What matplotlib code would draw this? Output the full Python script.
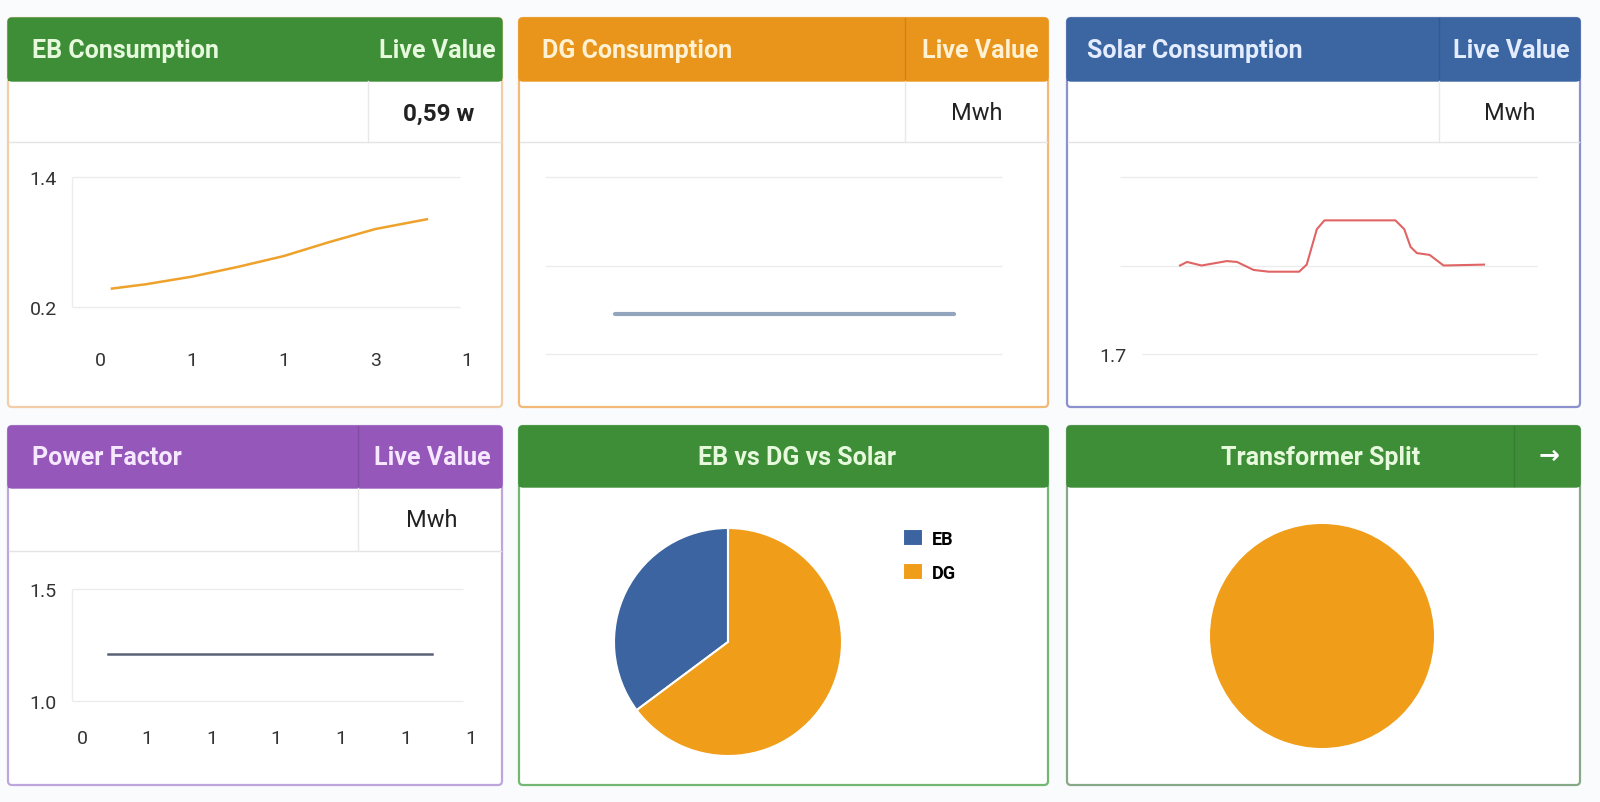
import matplotlib.pyplot as plt
from matplotlib.patches import FancyBboxPatch, Rectangle

plt.rcParams['font.family'] = ['Roboto', 'DejaVu Sans']

# ---- данные ----
eb_x = [0.13, 0.5, 1.0, 1.5, 2.0, 2.5, 3.0, 3.56]
eb_y = [0.37, 0.41, 0.48, 0.57, 0.67, 0.80, 0.92, 1.01]
eb_xlabels = ['0', '1', '1', '3', '1']
eb_yticks = [0.2, 1.4]
eb_live = '0,59 w'

dg_x = [0, 1, 2, 3, 4]
dg_y = [0.45, 0.45, 0.45, 0.45, 0.45]
dg_live = 'Mwh'

solar_x = [0, 0.55, 1.7, 3.7, 4.5, 5.8, 7.0, 9.4, 10.0, 10.8, 11.4, 17.0, 17.7, 18.2, 18.7, 19.7, 20.8, 24.0]
solar_y = [1.800, 1.804, 1.800, 1.805, 1.804, 1.795, 1.793, 1.793, 1.801, 1.841, 1.851,
           1.851, 1.841, 1.821, 1.814, 1.812, 1.800, 1.801]
solar_live = 'Mwh'

pf_x = [0.4, 1.4, 2.4, 3.4, 4.4, 5.4]
pf_y = [1.21, 1.21, 1.21, 1.21, 1.21, 1.21]
pf_xlabels = ['0', '1', '1', '1', '1', '1', '1']
pf_yticks = [1.0, 1.5]
pf_live = 'Mwh'

mix_labels = ['EB', 'DG']
mix_values = [35.2, 64.8]
transformer_values = [100]

# цвета
GREEN = '#3e8e38'
ORANGE = '#e9951c'
BLUE = '#3b66a2'
PURPLE = '#9657bb'
PIE_BLUE = '#3b64a0'
PIE_ORANGE = '#f09d1a'
GRID = '#ececec'
TICK = '#333333'

W, H = 1600, 803
fig = plt.figure(figsize=(W / 100, H / 100), dpi=100)
fig.patch.set_facecolor('#fafbfc')

# фоновая ось в пикселях для карточек
bg = fig.add_axes([0, 0, 1, 1])
bg.set_xlim(0, W)
bg.set_ylim(H, 0)
bg.axis('off')


def card(x0, x1, y0, yh, y1, head_color, border, yr=None, div=None, head_div=True):
    bg.add_patch(FancyBboxPatch((x0, y0), x1 - x0, y1 - y0, boxstyle='round,pad=0,rounding_size=4',
                                facecolor='white', edgecolor=border, lw=1.6))
    bg.add_patch(FancyBboxPatch((x0, y0), x1 - x0, yh - y0, boxstyle='round,pad=0,rounding_size=4',
                                facecolor=head_color, edgecolor=head_color, lw=1))
    bg.add_patch(Rectangle((x0, (y0 + yh) / 2), x1 - x0, (yh - y0) / 2, facecolor=head_color,
                           edgecolor='none'))
    if yr is not None:
        bg.plot([x0 + 1, x1 - 1], [yr, yr], color='#e4e4e4', lw=1)
    if div is not None:
        if head_div:
            bg.plot([div, div], [y0, yh], color='black', alpha=0.12, lw=1)
        if yr is not None:
            bg.plot([div, div], [yh, yr], color='#e8e8e8', lw=1)


def head_text(x, y, s, color, ha='left'):
    bg.text(x, y, s, color=color, fontsize=18, fontweight='bold', ha=ha, va='center')


def px_axes(left, top, right, bottom):
    ax = fig.add_axes([left / W, 1 - bottom / H, (right - left) / W, (bottom - top) / H])
    ax.set_facecolor('none')
    for s in ax.spines.values():
        s.set_visible(False)
    ax.tick_params(length=0, colors=TICK, labelsize=14)
    return ax


# ---- карточки ----
card(8, 502, 19, 82, 408, GREEN, '#f3cda8', yr=143, div=368, head_div=False)
head_text(32, 51, 'EB Consumption', '#e6f9dc')
head_text(437, 51, 'Live Value', '#e6f9dc', ha='center')
bg.text(439, 114, eb_live, fontsize=17.5, fontweight='bold', color='#222222', ha='center', va='center')

card(519, 1048, 19, 82, 408, ORANGE, '#f2b978', yr=143, div=905)
head_text(542, 51, 'DG Consumption', '#fff1d2')
head_text(980, 51, 'Live Value', '#fff1d2', ha='center')
bg.text(977, 114, dg_live, fontsize=17, color='#222222', ha='center', va='center')

card(1067, 1580, 19, 82, 408, BLUE, '#8c90cc', yr=143, div=1439)
head_text(1087, 51, 'Solar Consumption', '#e4edff')
head_text(1511, 51, 'Live Value', '#e4edff', ha='center')
bg.text(1510, 114, solar_live, fontsize=17, color='#222222', ha='center', va='center')

card(8, 502, 427, 489, 786, PURPLE, '#bea6dc', yr=552, div=358)
head_text(32, 458, 'Power Factor', '#f6e8ff')
head_text(432, 458, 'Live Value', '#f6e8ff', ha='center')
bg.text(432, 521, pf_live, fontsize=17, color='#222222', ha='center', va='center')

card(519, 1048, 427, 488, 786, GREEN, '#72b872')
head_text(797, 458, 'EB vs DG vs Solar', '#e6f9dc', ha='center')

card(1067, 1580, 427, 488, 786, GREEN, '#86a886', div=1514)
head_text(1321, 458, 'Transformer Split', '#e6f9dc', ha='center')
head_text(1549, 456, '\u2192', '#ffffff', ha='center')

# ---- EB Consumption ----
ax1 = px_axes(72, 178, 470, 308)
ax1.set_xlim(-0.305, 4.03)
ax1.set_ylim(0.2, 1.4)
ax1.hlines(eb_yticks, -0.305, 3.92, color=GRID, lw=1, clip_on=False)
ax1.vlines(-0.305, 0.2, 1.4, color=GRID, lw=1, clip_on=False)
ax1.plot(eb_x, eb_y, color='#eea22c', lw=1.8)
ax1.set_yticks(eb_yticks)
ax1.set_yticklabels(['0.2', '1.4'])
ax1.set_xticks(range(len(eb_xlabels)))
ax1.set_xticklabels(eb_xlabels)
ax1.tick_params(axis='x', pad=32)
ax1.tick_params(axis='y', pad=11)

# ---- DG Consumption ----
ax2 = px_axes(545, 178, 1002, 355)
ax2.set_xlim(-0.826, 4.566)
ax2.set_ylim(0, 2)
ax2.hlines([0, 1, 2], -0.826, 4.566, color=GRID, lw=1, clip_on=False)
ax2.plot(dg_x, dg_y, color='#93a4bd', lw=3, solid_capstyle='round')
ax2.set_xticks([])
ax2.set_yticks([])

# ---- Solar Consumption ----
ax3 = px_axes(1120, 178, 1537, 355)
ax3.set_xlim(-4.74, 28.18)
ax3.set_ylim(1.7, 1.9)
ax3.hlines([1.8, 1.9], -4.74, 28.18, color=GRID, lw=1, clip_on=False)
ax3.hlines([1.7], -3.0, 28.18, color=GRID, lw=1, clip_on=False)
ax3.plot(solar_x, solar_y, color='#e06464', lw=1.5)
ax3.set_xticks([])
ax3.set_yticks([1.7])
ax3.set_yticklabels(['1.7'])
ax3.tick_params(axis='y', pad=-5)

# ---- Power Factor ----
ax4 = px_axes(72, 590, 475, 702)
ax4.set_xlim(-0.155, 6.07)
ax4.set_ylim(1.0, 1.5)
ax4.hlines(pf_yticks, -0.155, 5.89, color=GRID, lw=1, clip_on=False)
ax4.vlines(-0.155, 1.0, 1.5, color=GRID, lw=1, clip_on=False)
ax4.plot(pf_x, pf_y, color='#5a6276', lw=1.8)
ax4.set_yticks(pf_yticks)
ax4.set_yticklabels(['1.0', '1.5'])
ax4.set_xticks(range(len(pf_xlabels)))
ax4.set_xticklabels(pf_xlabels)
ax4.tick_params(axis='x', pad=20)
ax4.tick_params(axis='y', pad=11)

# ---- EB vs DG vs Solar ----
ax5 = px_axes(614, 529, 842, 757)
wedges, _ = ax5.pie(mix_values, colors=[PIE_BLUE, PIE_ORANGE], startangle=90, counterclock=True,
                    radius=1, wedgeprops=dict(edgecolor='white', linewidth=1.5))
ax5.set_xlim(-1, 1)
ax5.set_ylim(-1, 1)
ax5.legend(wedges, mix_labels, loc='upper left', bbox_to_anchor=(903 / W, 1 - 530 / H),
           bbox_transform=fig.transFigure, frameon=False, borderpad=0, borderaxespad=0,
           handlelength=1.1, handleheight=1.1, handletextpad=0.5, labelspacing=0.85,
           prop=dict(size=13, weight='bold'))

# ---- Transformer Split ----
ax6 = px_axes(1210, 525, 1434, 749)
ax6.pie(transformer_values, colors=[PIE_ORANGE], startangle=90, radius=1,
        wedgeprops=dict(edgecolor='none'))
ax6.set_xlim(-1, 1)
ax6.set_ylim(-1, 1)

fig.savefig('out.png', dpi=100, facecolor=fig.get_facecolor())
